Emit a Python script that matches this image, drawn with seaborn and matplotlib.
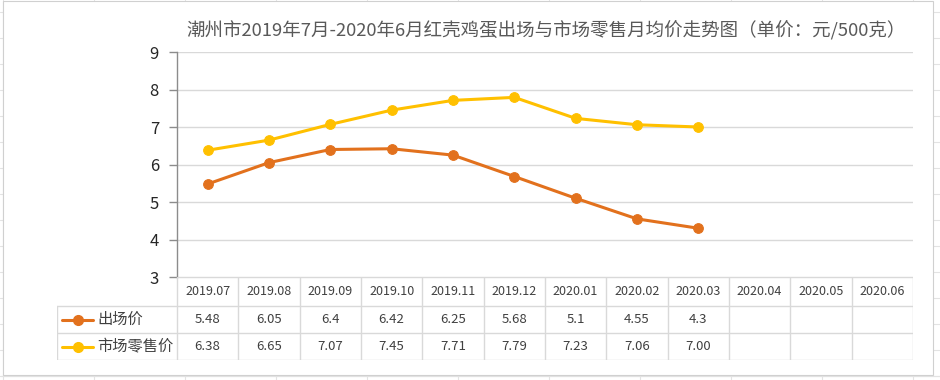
import numpy as np
import matplotlib
matplotlib.use('Agg')
import matplotlib.pyplot as plt
import seaborn as sns
from matplotlib.patches import Rectangle

sns.set_theme(style="white")
plt.rcParams['font.family'] = ['Noto Sans CJK SC', 'DejaVu Sans']

# data
months = ['2019.07', '2019.08', '2019.09', '2019.10', '2019.11', '2019.12',
          '2020.01', '2020.02', '2020.03', '2020.04', '2020.05', '2020.06']
ex_factory = [5.48, 6.05, 6.4, 6.42, 6.25, 5.68, 5.1, 4.55, 4.3]
retail = [6.38, 6.65, 7.07, 7.45, 7.71, 7.79, 7.23, 7.06, 7.00]
ex_factory_text = ['5.48', '6.05', '6.4', '6.42', '6.25', '5.68', '5.1', '4.55', '4.3']
retail_text = ['6.38', '6.65', '7.07', '7.45', '7.71', '7.79', '7.23', '7.06', '7.00']
series_names = ['出场价', '市场零售价']
title = '潮州市2019年7月-2020年6月红壳鸡蛋出场与市场零售月均价走势图（单价：元/500克）'

orange = '#E2711D'
yellow = '#FFC000'
grid_c = '#D9D9D9'
text_c = '#404040'

W, H = 940, 380
fig = plt.figure(figsize=(W / 100, H / 100), dpi=100)


def box(x0, y0, x1, y1):
    return [x0 / W, 1 - y1 / H, (x1 - x0) / W, (y1 - y0) / H]


# spreadsheet background peeking around the chart
bg = fig.add_axes([0, 0, 1, 1], zorder=-5)
bg.set_xlim(0, W)
bg.set_ylim(H, 0)
bg.axis('off')
for xc in np.arange(3, W, 91):
    bg.axvline(xc, color='#E3E3E3', lw=0.8, zorder=1)
for yr in np.arange(12, H, 26):
    bg.axhline(yr, color='#E3E3E3', lw=0.8, zorder=1)
bg.axhline(376, color='#E3E3E3', lw=0.8, zorder=1)
bg.add_patch(Rectangle((3, 1), 930, 374, facecolor='white', edgecolor='#D0D0D0',
                       lw=0.8, zorder=5))

# main line chart
ax = fig.add_axes(box(177, 52, 913, 277))
ax.patch.set_alpha(0)
xs = np.arange(len(ex_factory))
sns.lineplot(x=xs, y=ex_factory, color=orange, marker='o', markersize=7,
             markeredgecolor=orange, linewidth=2.2, ax=ax)
sns.lineplot(x=np.arange(len(retail)), y=retail, color=yellow, marker='o', markersize=7,
             markeredgecolor=yellow, linewidth=2.2, ax=ax)
ax.set_xlim(-0.5, len(months) - 0.5)
ax.set_ylim(3, 9)
ax.set_yticks(range(3, 10))
ax.set_xticks([])
ax.yaxis.grid(True, color=grid_c, lw=1)
ax.set_axisbelow(True)
for s in ['top', 'right', 'bottom']:
    ax.spines[s].set_visible(False)
ax.spines['left'].set_color('#8C8C8C')
ax.spines['left'].set_linewidth(1)
ax.tick_params(axis='y', left=True, length=6, width=1, color='#8C8C8C',
               labelsize=12, labelcolor='#262626', pad=7)

# data table below the chart
u = len(months) / (913 - 177)
left = -0.5 - (177 - 57) * u
tab = fig.add_axes(box(57, 277, 913, 360))
tab.patch.set_alpha(0)
tab.set_xlim(left, len(months) - 0.5)
tab.set_ylim(83, 0)
tab.axis('off')
rows = [0, 29, 56, 83]
tab.plot([-0.5, len(months) - 0.5], [0, 0], color=grid_c, lw=1)
for r in rows[1:]:
    tab.plot([left, len(months) - 0.5], [r, r], color=grid_c, lw=1)
for k in range(len(months) + 1):
    tab.plot([k - 0.5, k - 0.5], [0, 83], color=grid_c, lw=1)
tab.plot([left, left], [29, 83], color=grid_c, lw=1)

for i, m in enumerate(months):
    tab.text(i, 14.5, m, ha='center', va='center', fontsize=9, color=text_c)
for i, t in enumerate(ex_factory_text):
    tab.text(i, 42.5, t, ha='center', va='center', fontsize=9.5, color=text_c)
for i, t in enumerate(retail_text):
    tab.text(i, 69.5, t, ha='center', va='center', fontsize=9.5, color=text_c)

for name, col, yc in zip(series_names, [orange, yellow], [42.5, 69.5]):
    tab.plot([left + 5 * u, left + 36 * u], [yc, yc], color=col, lw=2.2)
    tab.plot([left + 21 * u], [yc], marker='o', markersize=7, color=col)
    tab.text(left + 40 * u, yc, name, ha='left', va='center', fontsize=11, color=text_c)

fig.text(546 / W, 1 - 31 / H, title, ha='center', va='center', fontsize=13.3, color='#595959')

fig.savefig('out.png', dpi=100)
